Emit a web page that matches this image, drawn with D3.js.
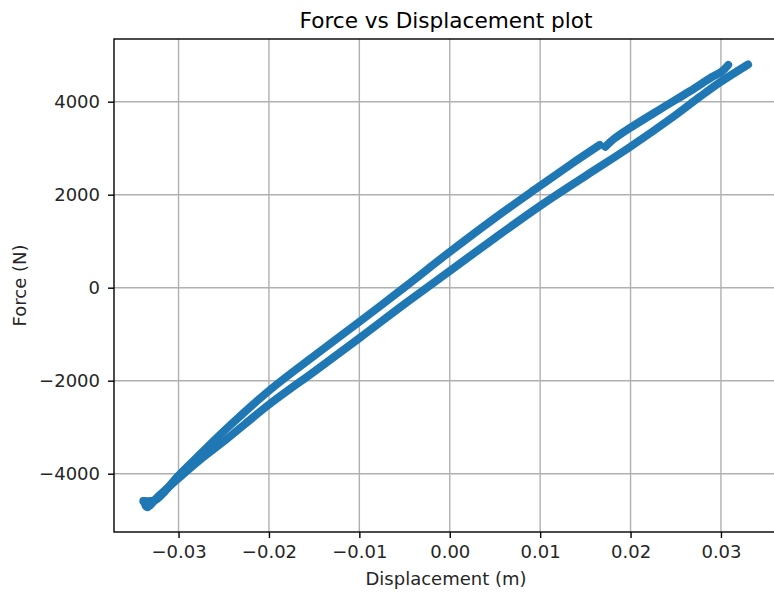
<!DOCTYPE html>
<html>
<head>
<meta charset="utf-8">
<script src="https://cdn.jsdelivr.net/npm/d3@7"></script>
<style>
  html, body { margin: 0; padding: 0; background: #fff; }
  svg { display: block; font-family: "DejaVu Sans", sans-serif; }
</style>
</head>
<body>
<svg id="chart" width="774" height="595"></svg>
<script>
// Hysteresis loop: displacement (m) vs force (N), two branches
const upperDisp  = [-0.0339, -0.0326, -0.0318, -0.0300, -0.0275, -0.0249, -0.0199, -0.0149, -0.0099, -0.0050, 0.0000, 0.0050, 0.0100, 0.0133, 0.0166, null, 0.0172, 0.0183, 0.0199, 0.0233, 0.0266, 0.0290, 0.0301, 0.0308];
const upperForce = [-4590, -4570, -4440, -4040, -3560, -3070, -2200, -1450, -720, 10, 770, 1500, 2190, 2640, 3070, null, 3030, 3220, 3430, 3840, 4230, 4530, 4650, 4790];

const lowerDisp  = [-0.0338, -0.0335, -0.0322, -0.0299, -0.0275, -0.0249, -0.0199, -0.0149, -0.0099, -0.0050, 0.0000, 0.0050, 0.0100, 0.0150, 0.0199, 0.0249, 0.0277, 0.0300, 0.0330];
const lowerForce = [-4590, -4720, -4480, -4080, -3680, -3290, -2500, -1790, -1070, -350, 360, 1070, 1760, 2400, 3020, 3700, 4110, 4430, 4800];

const xTicks = [-0.03, -0.02, -0.01, 0.00, 0.01, 0.02, 0.03];
const yTicks = [-4000, -2000, 0, 2000, 4000];

const xDomain = [-0.03714, 0.03631];
const yDomain = [-5254, 5348];

const titleText = "Force vs Displacement plot";
const xLabelText = "Displacement (m)";
const yLabelText = "Force (N)";

const svg = d3.select("#chart");
const plot = { left: 114, right: 778, top: 39, bottom: 532 };

const x = d3.scaleLinear().domain(xDomain).range([plot.left, plot.right]);
const y = d3.scaleLinear().domain(yDomain).range([plot.bottom, plot.top]);

const minus = s => s.replace("-", "\u2212");
const fmtX = d => minus(d3.format(".2f")(d));
const fmtY = d => minus(d3.format("d")(d));

const gridColor = "#b0b0b0";

// grid
const grid = svg.append("g");
grid.selectAll("line.gx").data(xTicks).join("line")
  .attr("x1", d => x(d)).attr("x2", d => x(d))
  .attr("y1", plot.top).attr("y2", plot.bottom)
  .attr("stroke", gridColor).attr("stroke-width", 1.4);
grid.selectAll("line.gy").data(yTicks).join("line")
  .attr("x1", plot.left).attr("x2", plot.right)
  .attr("y1", d => y(d)).attr("y2", d => y(d))
  .attr("stroke", gridColor).attr("stroke-width", 1.4);

// data
svg.append("clipPath").attr("id", "plotClip")
  .append("rect").attr("x", plot.left).attr("y", plot.top)
  .attr("width", plot.right - plot.left).attr("height", plot.bottom - plot.top);

const upper = upperDisp.map((d, i) => [d, upperForce[i]]);
const lower = lowerDisp.map((d, i) => [d, lowerForce[i]]);

const line = d3.line()
  .defined(p => p[0] !== null && p[1] !== null)
  .x(p => x(p[0])).y(p => y(p[1]))
  .curve(d3.curveCatmullRom.alpha(0.5));

const series = svg.append("g").attr("clip-path", "url(#plotClip)");
[upper, lower].forEach(pts => {
  series.append("path")
    .attr("d", line(pts))
    .attr("fill", "none")
    .attr("stroke", "#1f77b4")
    .attr("stroke-width", 8)
    .attr("stroke-linecap", "round")
    .attr("stroke-linejoin", "round");
});

// axes
const xAxis = d3.axisBottom(x).tickValues(xTicks).tickFormat(fmtX).tickSizeInner(6).tickSizeOuter(0).tickPadding(7);
const yAxis = d3.axisLeft(y).tickValues(yTicks).tickFormat(fmtY).tickSizeInner(6).tickSizeOuter(0).tickPadding(8);

const gx = svg.append("g").attr("transform", `translate(0,${plot.bottom})`).call(xAxis);
const gy = svg.append("g").attr("transform", `translate(${plot.left},0)`).call(yAxis);
[gx, gy].forEach(g => {
  g.select(".domain").remove();
  g.selectAll(".tick line").attr("stroke", "#000").attr("stroke-width", 1.4);
  g.selectAll(".tick text").attr("fill", "#262626")
    .style("font-family", "'DejaVu Sans', sans-serif").style("font-size", "18px");
});

// frame
svg.append("rect")
  .attr("x", plot.left).attr("y", plot.top)
  .attr("width", plot.right - plot.left).attr("height", plot.bottom - plot.top)
  .attr("fill", "none").attr("stroke", "#000").attr("stroke-width", 1.4);

// labels
svg.append("text")
  .attr("x", (plot.left + plot.right) / 2).attr("y", 27.5)
  .attr("text-anchor", "middle").attr("fill", "#000")
  .style("font-size", "21.6px").text(titleText);

svg.append("text")
  .attr("x", (plot.left + plot.right) / 2).attr("y", 585)
  .attr("text-anchor", "middle").attr("fill", "#262626")
  .style("font-size", "18px").text(xLabelText);

svg.append("text")
  .attr("transform", `translate(25.5,${(plot.top + plot.bottom) / 2}) rotate(-90)`)
  .attr("text-anchor", "middle").attr("fill", "#262626")
  .style("font-size", "18px").text(yLabelText);
</script>
</body>
</html>
